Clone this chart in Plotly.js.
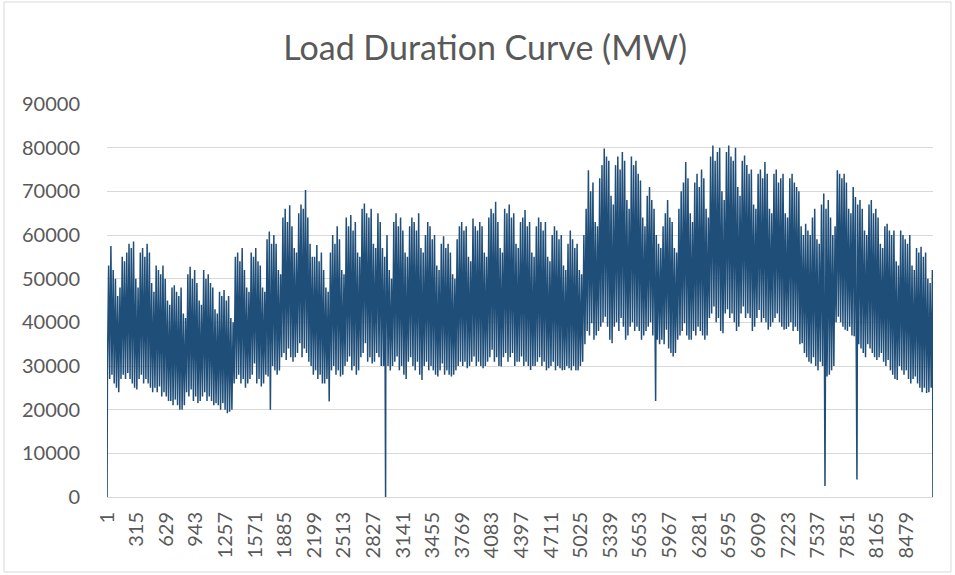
<!DOCTYPE html>
<html>
<head>
<meta charset="utf-8">
<script src="https://cdn.plot.ly/plotly-3.0.1.min.js"></script>
<style>html,body{margin:0;padding:0;background:#fff;}#chart{width:955px;height:575px;}</style>
</head>
<body>
<div id="chart"></div>
<script>
// Daily peak load (thousand MW), one value per day of the year
const dailyPeakK = [
53,57.5,52,50,46,48,55,
54,56,58,57,58.5,50,48,
56,57,55,58,56,49,47,
53,52,51,53,50,45,44,
48,48.5,47,46,48,42,41,
51,52.7,50,52,49,45,44,
52,50,51,49,48,43,42,
47,46,47.4,45,46,41,40,
55,56,54,57,52,48,47,
56,55,57,54,53,48,47,
59,60.8,58,60,58,52,51,
64,66,63,66.8,62,57,56,
65,67,66,70.3,64,58,55,
55,57.7,54,56,52,48,47,
56,60,58,62,59,52,51,
64,62,64.6,61,63,56,55,
66,67.2,65,64,66,58,57,
65,63,57,55,60,52,50,
63,65,62,64,61,56,55,
62,64,63,61,65,57,56,
60,63,62,59,60,53,52,
58,59.7,57,58,56,51,50,
59,62,63,61,62,55,54,
63.8,62,61,63,62,56,55,
64,66,65,67.6,63,57,56,
66,65,67,64,65,58,57,
63,64,65.7,62,63,56,55,
62,64,63,61,63,55,54,
60,62,61,59,60,53,52,
58,61,59,57,58,52,51,
60,66,74.8,70,72,63,62,
73,76,79.8,78,77,69,67,
76,78,75,79,77,68,66,
78,76,77,74,72.5,64,62,
69,71,68,66,60,58,57,
62,65,68,64,63,57,56,
66,70,72,76.7,73,65,63,
72,74,71,75,73,66,64,
78,80.5,77,79,80,70,68,
79,80.5,78,77,80,71,69,
77,78.2,76,74,75,67,66,
74,75,73,76.7,74,66,65,
74,75,72,73,74,65,64,
73,74,72,71,70,62,60,
62.6,61,60,64,66,59,58,
67,69.5,66,68,64,60,62,
74.8,74,73,74,72,66,65,
71,68.7,67,68,66,61,60,
67,68,65,66,64,58,57,
62,62.6,61,60,61,54,53,
61,60,59,58,60,53,52,
57,56,57.3,55,56,50,49,
52
];
// Daily minimum load (thousand MW)
const dailyTroughK = [
29,27,28,26,25,24,27,
28,27,28.4,27,26,25,24.6,
27,28,26,27,26,25,24,
25,24,25.3,23,24,23,22,
22,21,22.3,21,20,20,21,
24,23,24.6,22,23,21.5,22,
23,24,22,23,22,21,21.5,
21,20,21.5,20,19.2,19.5,20,
26,27,28,26,27,25,26,
27,28,30.6,26,27,25.3,26,
28,27.6,20,30,29,28,29,
32,33,31.4,34,32,31,32,
33,35.2,32,34,33,31,30,
28,29,27,28,26,26,27,
21.9,29,30,28,29,27.6,28,
30,31,32.2,29,30,28,29,
32,33,35.2,31,32,30.6,31,
33,32,30,30,31,30,29,
30,31,32.2,29,30,28,27,
31,32,30,29,31,28,26.8,
30,31,29,30,29,28,27.6,
29,30.6,28,29,28,27.6,28,
29,30,31,30,31,29.5,30,
31,32.2,30,31,30,29.5,30,
31,32,33.7,31,32,30,29.9,
32,33,31,32,33,30,31,
31,32.2,30,31,30,29.1,30,
30,31,32,30,31,29,29.5,
30,31,29,30,29.5,29,29.1,
30,29.5,29,30,29,29,30,
31,35,38,37,39.8,36,37,
38,39,40,41.3,39,36,35.2,
39,40,38,41,39,36,37,
39,40,38,39,38,36,37,
38,39,40,37,36,36,35,
36,35,38.3,34,33,32.2,33,
36,37,38,39.8,37,36,36,
38,37,39,38,37,36,37,
41,42,43.6,40,41,38,37.5,
42,43,41,42,40,38,39,
42,43.6,41,42,41,38,39,
41,42.8,40,41,40,38.3,39,
40,41,42,40,39,38.3,38.5,
39,40,38,39,38,35,35.2,
33,32,31,30.6,32,30,29,
31,30,29,27.6,28,29,30,
40,41.3,40,39,38.3,38,39,
37,36.8,36,35,34,33,32,
35,34,33,32,31.4,32,33,
31,30,31.4,29,28,27,26.8,
30,29,28,29,27,26,27,
27.6,26,25,24,25,23.8,24,
25
];
// Isolated outage dips (hour of year, MW)
const dipHours = [1, 2955, 5819, 7615, 7954, 8760];
const dipLoads = [0, 0, 22000, 2500, 4000, 0];
// Category axis tick labels
const tickHours = [1,315,629,943,1257,1571,1885,2199,2513,2827,3141,3455,3769,4083,4397,4711,5025,5339,5653,5967,6281,6595,6909,7223,7537,7851,8165,8479];

const pts = [];
for (let d = 0; d < dailyPeakK.length; d++) {
  pts.push([d * 24 + 5, dailyTroughK[d] * 1000]);
  pts.push([d * 24 + 18, dailyPeakK[d] * 1000]);
}
for (let i = 0; i < dipHours.length; i++) pts.push([dipHours[i], dipLoads[i]]);
pts.sort((a, b) => a[0] - b[0]);
const xs = pts.map(p => p[0]);
const ys = pts.map(p => p[1]);

const grey = '#595959';
const fontFam = 'Lato, "Open Sans", sans-serif';
const trace = {
  type: 'scatter', mode: 'lines', x: xs, y: ys,
  line: {color: '#1f4e79', width: 1.5},
  hoverinfo: 'x+y', showlegend: false
};
const layout = {
  width: 955, height: 575,
  margin: {l: 107, r: 22, t: 104, b: 78, pad: 0},
  paper_bgcolor: '#ffffff', plot_bgcolor: '#ffffff',
  font: {family: fontFam, color: grey, size: 20},
  title: {text: 'Load Duration Curve (MW)', font: {family: fontFam, size: 34, color: grey},
          x: 0.508, xref: 'container', xanchor: 'center', y: 0.916, yref: 'container', yanchor: 'middle'},
  xaxis: {
    type: 'linear', range: [0.5, 8760.5], tickmode: 'array',
    tickvals: tickHours, ticktext: tickHours.map(String), tickangle: -90,
    showgrid: false, zeroline: false, showline: true, linecolor: '#d9d9d9', linewidth: 1,
    ticks: 'outside', ticklen: 6, tickcolor: 'rgba(0,0,0,0)',
    tickfont: {family: fontFam, size: 20, color: grey}
  },
  yaxis: {
    range: [0, 90000], dtick: 10000, tick0: 0, tickformat: 'd',
    showgrid: true, gridcolor: '#d9d9d9', gridwidth: 1, zeroline: false, showline: false,
    ticks: 'outside', ticklen: 22, tickcolor: 'rgba(0,0,0,0)',
    tickfont: {family: fontFam, size: 20, color: grey}
  },
  shapes: [{type: 'rect', xref: 'paper', yref: 'paper', x0: -0.1247, x1: 1.0218, y0: -0.1908, y1: 1.2595,
            line: {color: '#d9d9d9', width: 1}, fillcolor: 'rgba(0,0,0,0)', layer: 'below'}]
};
Plotly.newPlot('chart', [trace], layout, {displayModeBar: false, staticPlot: true});
</script>
</body>
</html>
